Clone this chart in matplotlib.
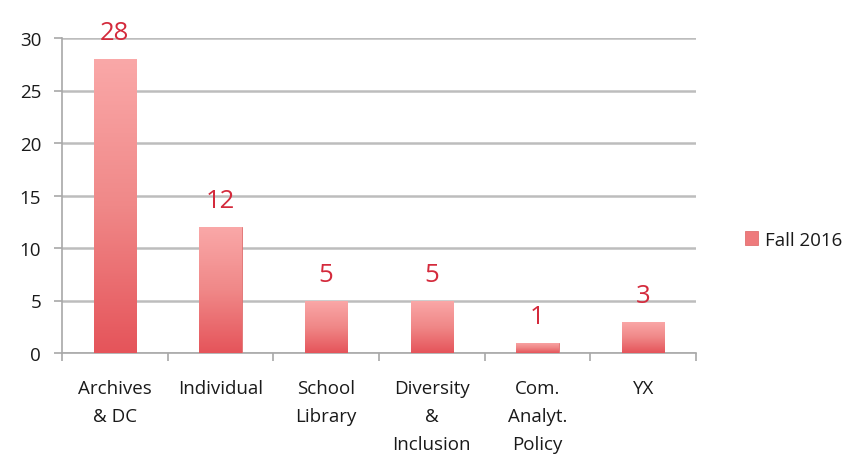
import matplotlib.pyplot as plt
import numpy as np
from matplotlib.colors import LinearSegmentedColormap

categories = ["Archives\n& DC", "Individual", "School\nLibrary",
              "Diversity\n&\nInclusion", "Com.\nAnalyt.\nPolicy", "YX"]
values = [28, 12, 5, 5, 1, 3]
series_name = "Fall 2016"
y_ticks = [0, 5, 10, 15, 20, 25, 30]

plt.rcParams["font.family"] = ["Open Sans", "DejaVu Sans"]

fig = plt.figure(figsize=(8.52, 4.60), dpi=100)
ax = fig.add_axes([62 / 852, 1 - 354 / 460, (696 - 62) / 852, (354 - 39) / 460])

x = np.arange(len(categories))
bars = ax.bar(x, values, width=0.4, color="#EE7A7C", edgecolor="#E07070",
              linewidth=0.6, label=series_name, zorder=3)

# vertical gradient inside every bar: light pink on top, deeper red at bottom
grad_cmap = LinearSegmentedColormap.from_list("g", ["#E5545A", "#F08888", "#FAA8A8"])
grad = np.linspace(0, 1, 256).reshape(-1, 1)
for b in bars:
    x0, y0 = b.get_x(), b.get_y()
    w, h = b.get_width(), b.get_height()
    im = ax.imshow(grad, cmap=grad_cmap, aspect="auto", origin="lower",
                   extent=[x0, x0 + w, y0, y0 + h], zorder=3.5)
    im.set_clip_path(b)

for xi, v in zip(x, values):
    ax.annotate(str(v), (xi, v), xytext=(0, 10), textcoords="offset points",
                ha="center", va="bottom", fontsize=18.5, color="#D42A3C")

ax.set_xlim(-0.5, len(categories) - 0.5)
ax.set_ylim(0, 30)
ax.set_yticks(y_ticks)
ax.tick_params(axis="y", length=6, width=1.2, color="#A8A8A8", labelsize=13.5,
               pad=9, labelcolor="#1A1A1A")
ax.grid(axis="y", color="#BDBDBD", linewidth=1.8, zorder=0)

ax.set_xticks(x)
ax.set_xticklabels(categories, fontsize=13.5, linespacing=1.7, color="#1A1A1A")
ax.set_xticks(np.arange(len(categories) + 1) - 0.5, minor=True)
ax.tick_params(axis="x", which="major", length=0, pad=19)
ax.tick_params(axis="x", which="minor", length=6, width=1.2, color="#A8A8A8")

for s in ["top", "right"]:
    ax.spines[s].set_visible(False)
for s in ["left", "bottom"]:
    ax.spines[s].set_color("#A8A8A8")
    ax.spines[s].set_linewidth(1.2)

leg = ax.legend(loc="center left", bbox_to_anchor=(1.05, 0.36), frameon=False,
                fontsize=13.5, handlelength=0.7, handleheight=0.7, handletextpad=0.4,
                labelcolor="#1A1A1A")

fig.savefig("out.png", dpi=100)
